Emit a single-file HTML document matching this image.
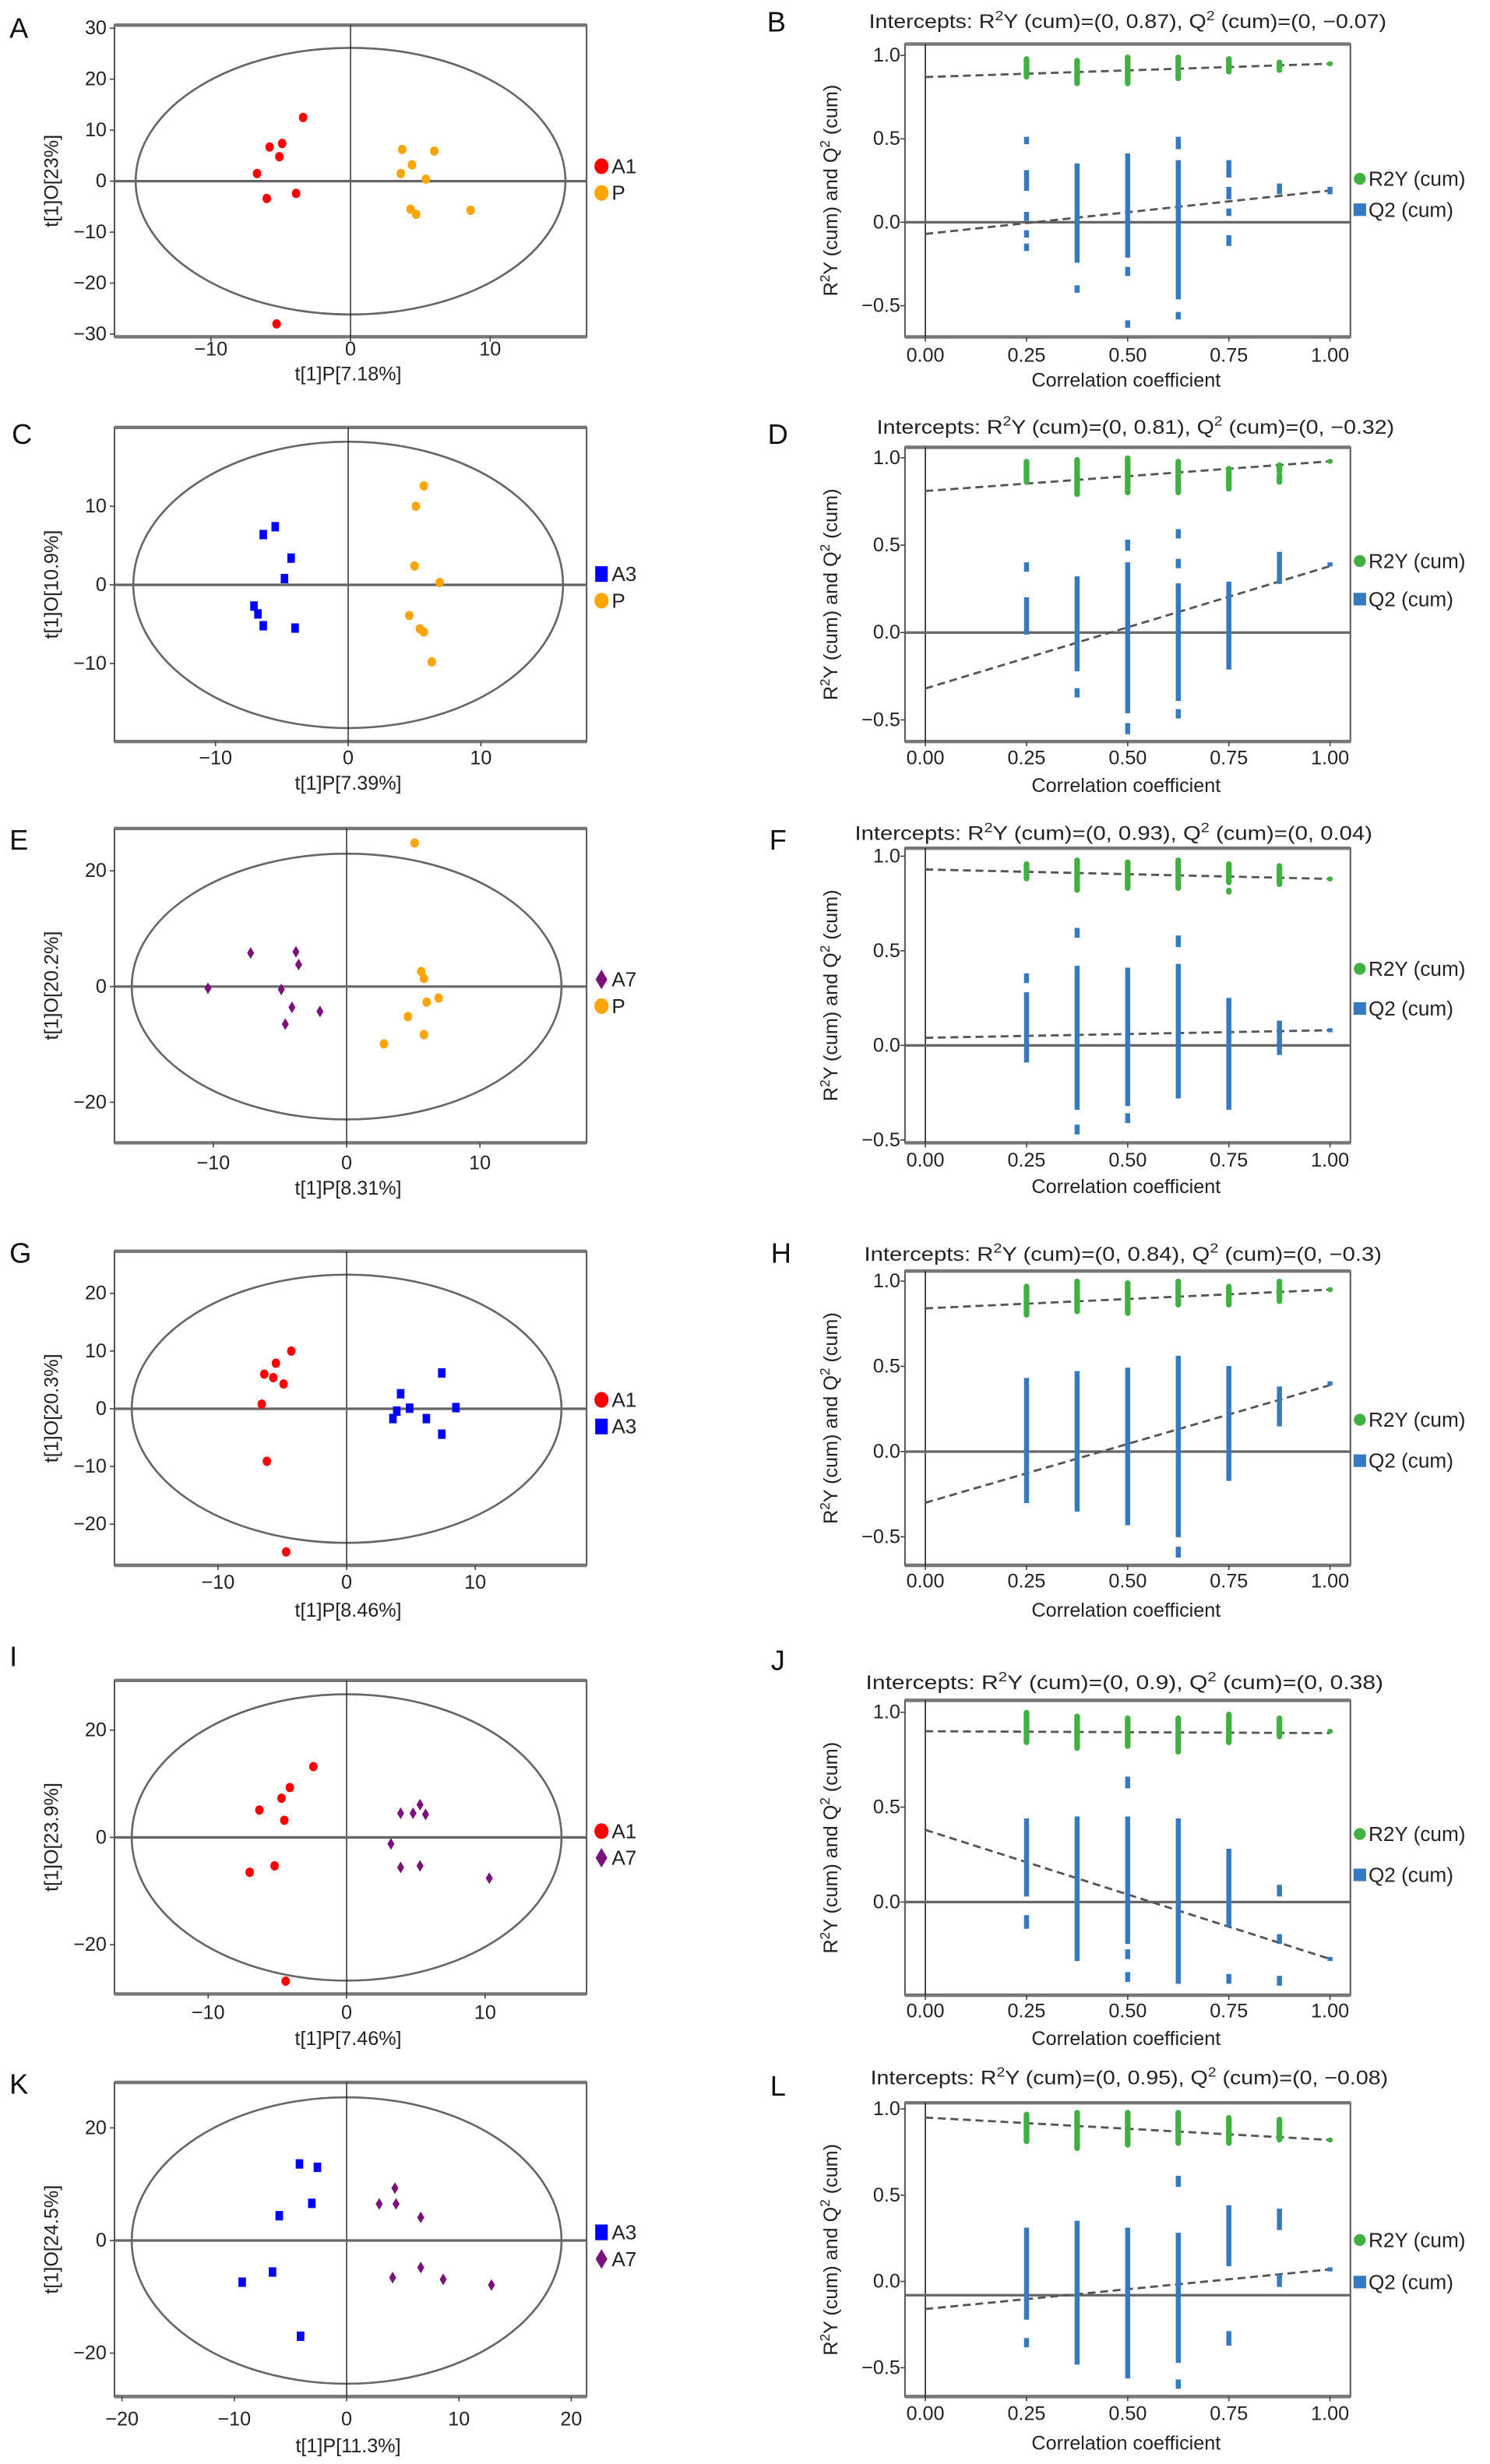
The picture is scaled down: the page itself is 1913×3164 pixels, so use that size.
<!DOCTYPE html>
<html><head><meta charset="utf-8"><title>OPLS-DA score plots and permutation tests</title>
<style>
html,body{margin:0;padding:0;background:#fff;}
svg{display:block;font-family:"Liberation Sans",Arial,sans-serif;}
</style></head>
<body>
<svg id="fig" xmlns="http://www.w3.org/2000/svg" width="1913" height="3164" viewBox="0 0 950 1571" preserveAspectRatio="none"></svg>
<script>
// ---------- Score plot data ----------
const aA1X=[-3.4,-4.9,-5.8,-5.1,-6.7,-3.9,-6.0,-5.3];
const aA1Y=[12.5,7.4,6.7,4.8,1.5,-2.4,-3.4,-28];
const aPX=[3.7,6.0,4.4,3.6,5.4,4.3,4.7,8.6];
const aPY=[6.2,5.9,3.2,1.5,0.4,-5.5,-6.5,-5.7];
const cA3X=[-5.5,-6.4,-4.3,-4.8,-7.1,-6.8,-6.4,-4.0];
const cA3Y=[7.4,6.4,3.4,0.8,-2.7,-3.7,-5.2,-5.5];
const cPX=[5.7,5.1,5.0,6.9,4.6,5.4,5.7,6.3];
const cPY=[12.6,10,2.4,0.3,-3.9,-5.6,-6,-9.8];
const eA7X=[-7.2,-3.8,-3.6,-10.4,-4.9,-4.1,-2.0,-4.6];
const eA7Y=[5.8,6.0,3.8,-0.3,-0.5,-3.6,-4.3,-6.5];
const ePX=[5.1,5.6,5.8,6.9,6.0,4.6,5.8,2.8];
const ePY=[24.8,2.6,1.4,-2.0,-2.7,-5.2,-8.3,-9.9];
const gA1X=[-4.3,-5.5,-6.4,-5.7,-4.9,-6.6,-6.2,-4.7];
const gA1Y=[10,7.9,6,5.4,4.3,0.8,-9.1,-24.8];
const gA3X=[7.4,4.2,4.9,3.9,8.5,3.6,6.2,7.4];
const gA3Y=[6.2,2.6,0.1,-0.4,0.2,-1.7,-1.7,-4.4];
const iA1X=[-2.4,-4.1,-4.7,-6.3,-4.5,-5.2,-7.0,-4.4];
const iA1Y=[13.2,9.3,7.3,5.1,3.2,-5.3,-6.5,-26.8];
const iA7X=[5.3,3.9,4.8,5.7,3.2,3.9,5.3,10.3];
const iA7Y=[6.1,4.5,4.5,4.3,-1.2,-5.6,-5.3,-7.6];
const kA3X=[-4.2,-2.6,-3.1,-6.0,-6.6,-9.3,-4.1];
const kA3Y=[13.6,13,6.6,4.4,-5.6,-7.4,-17];
const kA7X=[4.3,2.9,4.4,6.6,6.6,4.1,8.6,12.9];
const kA7Y=[9.3,6.5,6.5,4.1,-4.8,-6.6,-6.9,-7.9];
const scatXTicks=[-10,0,10];
const kXTicks=[-20,-10,0,10,20];
const aYTicks=[-30,-20,-10,0,10,20,30];
const cYTicks=[-10,0,10];
const eYTicks=[-20,0,20];
const gYTicks=[-20,-10,0,10,20];
const permXTicks=[0,0.25,0.5,0.75,1];
const permYTicks=[-0.5,0,0.5,1];
const jYTicks=[0,0.5,1];

// ---------- Permutation data: [x, high, low] ----------
const bR2Y=[[0.25,0.98,0.87],[0.375,0.97,0.83],[0.5,0.99,0.83],[0.625,0.99,0.86],[0.75,0.98,0.9],[0.875,0.96,0.91],[1,0.95,0.95]];
const bQ2=[[0.25,0.5,0.48],[0.25,0.3,0.2],[0.25,0.05,0.02],[0.25,-0.06,-0.08],[0.25,-0.14,-0.16],[0.375,0.34,-0.23],[0.375,-0.39,-0.41],[0.5,0.4,0.32],[0.5,0.3,-0.2],[0.5,-0.28,-0.31],[0.5,-0.6,-0.62],[0.625,0.5,0.45],[0.625,0.36,-0.45],[0.625,-0.55,-0.57],[0.75,0.36,0.28],[0.75,0.2,0.15],[0.75,0.07,0.05],[0.75,-0.09,-0.13],[0.875,0.22,0.18],[1,0.2,0.18]];
const bLines=[[0.87,0.95],[-0.07,0.19]];
const dR2Y=[[0.25,0.98,0.86],[0.375,0.99,0.79],[0.5,1.0,0.8],[0.625,0.98,0.8],[0.75,0.94,0.82],[0.875,0.96,0.92],[0.875,0.9,0.86],[1,0.98,0.98]];
const dQ2=[[0.25,0.39,0.36],[0.25,0.19,0.0],[0.375,0.31,-0.21],[0.375,-0.33,-0.36],[0.5,0.52,0.48],[0.5,0.39,-0.45],[0.5,-0.53,-0.57],[0.625,0.58,0.55],[0.625,0.41,0.38],[0.625,0.27,-0.38],[0.625,-0.45,-0.48],[0.75,0.28,-0.2],[0.875,0.45,0.29],[1,0.39,0.39]];
const dLines=[[0.81,0.98],[-0.32,0.38]];
const fR2Y=[[0.25,0.96,0.88],[0.375,0.98,0.82],[0.5,0.97,0.83],[0.625,0.98,0.83],[0.75,0.96,0.86],[0.75,0.82,0.81],[0.875,0.95,0.85],[1,0.88,0.88]];
const fQ2=[[0.25,0.37,0.34],[0.25,0.27,-0.08],[0.375,0.61,0.58],[0.375,0.41,-0.33],[0.375,-0.43,-0.46],[0.5,0.4,-0.31],[0.5,-0.37,-0.4],[0.625,0.57,0.53],[0.625,0.42,-0.27],[0.75,0.24,-0.33],[0.875,0.12,-0.04],[1,0.08,0.08]];
const fLines=[[0.93,0.88],[0.04,0.08]];
const hR2Y=[[0.25,0.97,0.8],[0.375,1.0,0.82],[0.5,0.99,0.81],[0.625,1.0,0.86],[0.75,0.97,0.86],[0.875,1.0,0.88],[1,0.95,0.95]];
const hQ2=[[0.25,0.42,-0.29],[0.375,0.46,-0.34],[0.5,0.48,-0.42],[0.625,0.55,-0.49],[0.625,-0.57,-0.61],[0.75,0.49,-0.16],[0.875,0.37,0.16],[1,0.4,0.4]];
const hLines=[[0.84,0.95],[-0.3,0.39]];
const jR2Y=[[0.25,1.0,0.84],[0.375,0.98,0.81],[0.5,0.97,0.82],[0.625,0.97,0.79],[0.75,0.99,0.84],[0.875,0.97,0.87],[1,0.9,0.9]];
const jQ2=[[0.25,0.43,0.04],[0.25,-0.08,-0.13],[0.375,0.44,-0.3],[0.5,0.65,0.61],[0.5,0.44,-0.21],[0.5,-0.26,-0.29],[0.5,-0.38,-0.41],[0.625,0.43,-0.42],[0.75,0.27,-0.12],[0.75,-0.39,-0.42],[0.875,0.08,0.04],[0.875,-0.18,-0.21],[0.875,-0.4,-0.43],[1,-0.3,-0.3]];
const jLines=[[0.9,0.89],[0.38,-0.3]];
const lR2Y=[[0.25,0.97,0.81],[0.375,0.98,0.77],[0.5,0.98,0.79],[0.625,0.98,0.8],[0.75,0.95,0.8],[0.875,0.94,0.82],[1,0.82,0.82]];
const lQ2=[[0.25,0.3,-0.21],[0.25,-0.34,-0.37],[0.375,0.34,-0.47],[0.5,0.3,-0.55],[0.625,0.6,0.56],[0.625,0.27,-0.46],[0.625,-0.58,-0.61],[0.75,0.43,0.1],[0.75,-0.3,-0.36],[0.875,0.41,0.31],[0.875,0.03,-0.02],[1,0.07,0.07]];
const lLines=[[0.95,0.82],[-0.16,0.07]];

const svg=document.getElementById('fig');
const NS='http://www.w3.org/2000/svg';
function mk(tag,attrs,parent){const e=document.createElementNS(NS,tag);for(const k in attrs)e.setAttribute(k,attrs[k]);(parent||svg).appendChild(e);return e;}

const COL={red:'#ff0000',orange:'#ffa500',blue:'#0000ff',purple:'#7b127b',green:'#40b040',steel:'#3579c0'};

function marker(shape,cx,cy,s,color,parent){
  let el;
  if(shape==='circle'){el=mk('ellipse',{cx:cx,cy:cy,rx:s*0.9,ry:s,fill:color},parent);}
  else if(shape==='square'){el=mk('rect',{x:cx-s*0.8,y:cy-s,width:s*1.6,height:s*2,fill:color},parent);}
  else {el=mk('polygon',{points:(cx)+','+(cy-s*1.25)+' '+(cx+s*0.75)+','+cy+' '+cx+','+(cy+s*1.25)+' '+(cx-s*0.75)+','+cy,fill:color},parent);}
  return el;
}

function letter(t,x,y){
  const e=mk('text',{x:x,y:y,'font-size':18,'text-anchor':'middle','dominant-baseline':'central',fill:'#111'});
  e.textContent=t;
  
  
}

function scatterPanel(p){
  const g=mk('g',{});
  
  
  const X=v=>p.x0+v*p.xs, Y=v=>p.y0-v*p.ys;
  const L=73,R=374;
  const box=mk('rect',{x:L,y:p.top,width:R-L,height:p.bot-p.top,fill:'none',stroke:'#555','stroke-width':1},g);
  
  
  const tb=mk('path',{d:'M'+L+' '+p.top+'H'+R+'M'+L+' '+p.bot+'H'+R,stroke:'#777','stroke-width':2.2,fill:'none'},g);
  
  
  const ell=mk('ellipse',{cx:p.x0,cy:p.y0,rx:137,ry:p.ery,fill:'none',stroke:'#666','stroke-width':1.3},g);
  
  
  const vl=mk('line',{x1:p.x0,x2:p.x0,y1:p.top,y2:p.bot,stroke:'#222','stroke-width':0.7},g);
  
  
  const hl=mk('line',{x1:L,x2:R,y1:p.y0,y2:p.y0,stroke:'#666','stroke-width':1.6},g);
  
  
  p.xt.forEach(v=>{
    const t=mk('text',{x:X(v),y:p.xty,'font-size':12.5,'text-anchor':'middle','dominant-baseline':'central',fill:'#222'},g);
    t.textContent=v<0?'\u2212'+(-v):String(v);
    
    
    const tk=mk('line',{x1:X(v),x2:X(v),y1:p.bot,y2:p.bot+3,stroke:'#444','stroke-width':0.8},g);
    
    
  });
  p.yt.forEach(v=>{
    const t=mk('text',{x:68,y:Y(v),'font-size':12.5,'text-anchor':'end','dominant-baseline':'central',fill:'#222'},g);
    t.textContent=v<0?'\u2212'+(-v):String(v);
    
    
    const tk=mk('line',{x1:L-3,x2:L,y1:Y(v),y2:Y(v),stroke:'#444','stroke-width':0.8},g);
    
    
  });
  const xt=mk('text',{x:222,y:p.xtitY,'font-size':12.5,'text-anchor':'middle','dominant-baseline':'central',fill:'#222'},g);
  xt.textContent=p.xtitle;
  
  
  const my=(p.top+p.bot)/2;
  const yt=mk('text',{x:33,y:my,'font-size':12.5,'text-anchor':'middle','dominant-baseline':'central',fill:'#222',transform:'rotate(-90 33 '+my+')'},g);
  yt.textContent=p.ytitle;
  
  
  p.groups.forEach((gr,gi)=>{
    gr.xs.forEach((xv,i)=>{
      const m=marker(gr.shape,X(xv),Y(gr.ys[i]),3,gr.color,g);
      
      
    });
    const ly=p.legY+gi*17;
    const lm=marker(gr.shape,383.5,ly,5,gr.color,g);
    
    
    const lt=mk('text',{x:390,y:ly,'font-size':13,'dominant-baseline':'central',fill:'#222'},g);
    lt.textContent=gr.name;
    
    
  });
}

function permPanel(p){
  const g=mk('g',{});
  
  
  const X=v=>590+v*258, Y=v=>p.y0-v*p.u;
  const L=577,R=861;
  const box=mk('rect',{x:L,y:p.top,width:R-L,height:p.bot-p.top,fill:'none',stroke:'#555','stroke-width':1},g);
  
  
  const tb=mk('path',{d:'M'+L+' '+p.top+'H'+R+'M'+L+' '+p.bot+'H'+R,stroke:'#777','stroke-width':2.2,fill:'none'},g);
  
  
  const vl=mk('line',{x1:X(0),x2:X(0),y1:p.top,y2:p.bot,stroke:'#222','stroke-width':0.8},g);
  
  
  const hv=p.hline||0;
  const hl=mk('line',{x1:L,x2:R,y1:Y(hv),y2:Y(hv),stroke:'#666','stroke-width':1.6},g);
  
  
  permXTicks.forEach(v=>{
    const t=mk('text',{x:X(v),y:p.xty,'font-size':12.5,'text-anchor':'middle','dominant-baseline':'central',fill:'#222'},g);
    t.textContent=v.toFixed(2);
    
    
    const tk=mk('line',{x1:X(v),x2:X(v),y1:p.bot,y2:p.bot+3,stroke:'#444','stroke-width':0.8},g);
    
    
  });
  p.yt.forEach(v=>{
    const t=mk('text',{x:574,y:Y(v),'font-size':12.5,'text-anchor':'end','dominant-baseline':'central',fill:'#222'},g);
    t.textContent=v<0?'\u2212'+(-v).toFixed(1):v.toFixed(1);
    
    
    const tk=mk('line',{x1:L-3,x2:L,y1:Y(v),y2:Y(v),stroke:'#444','stroke-width':0.8},g);
    
    
  });
  const xt=mk('text',{x:718,y:p.xtitY,'font-size':12.5,'text-anchor':'middle','dominant-baseline':'central',fill:'#222'},g);
  xt.textContent='Correlation coefficient';
  
  
  const my=(p.top+p.bot)/2;
  const yt=mk('text',{x:530,y:my,'font-size':12.5,'text-anchor':'middle','dominant-baseline':'central',fill:'#222',transform:'rotate(-90 530 '+my+')'},g);
  yt.innerHTML='R<tspan dy="-4" font-size="8.5">2</tspan><tspan dy="4">Y (cum) and Q</tspan><tspan dy="-4" font-size="8.5">2</tspan><tspan dy="4"> (cum)</tspan>';
  
  
  const ti=mk('text',{x:p.tx,y:p.ty,'font-size':12.5,'text-anchor':'middle','dominant-baseline':'central',fill:'#222',textLength:330,lengthAdjust:'spacingAndGlyphs'},g);
  ti.innerHTML='Intercepts: R<tspan dy="-4" font-size="8.5">2</tspan><tspan dy="4">Y (cum)=(0, '+p.r2+'), Q</tspan><tspan dy="-4" font-size="8.5">2</tspan><tspan dy="4"> (cum)=(0, '+p.q2+')</tspan>';
  
  
  // regression lines
  const ln1=mk('line',{x1:X(0),y1:Y(p.lines[0][0]),x2:X(1),y2:Y(p.lines[0][1]),stroke:'#555','stroke-width':1.4,'stroke-dasharray':'5,3'},g);
  
  
  const ln2=mk('line',{x1:X(0),y1:Y(p.lines[1][0]),x2:X(1),y2:Y(p.lines[1][1]),stroke:'#555','stroke-width':1.4,'stroke-dasharray':'5,3'},g);
  
  
  p.q2runs.forEach(r=>{
    const y1=Y(r[1]),y2=Y(r[2]);
    const e=mk('rect',{x:X(r[0])-1.6,y:y1-1.3,width:3.2,height:y2-y1+2.6,fill:COL.steel},g);
    
    
  });
  p.r2runs.forEach(r=>{
    const y1=Y(r[1]),y2=Y(r[2]);
    const e=mk('rect',{x:X(r[0])-1.8,y:y1-1.6,width:3.6,height:y2-y1+3.2,rx:1.8,fill:COL.green},g);
    
    
  });
  const c=mk('circle',{cx:867,cy:p.legY,r:3.8,fill:COL.green},g);
  
  
  const t1=mk('text',{x:872.5,y:p.legY,'font-size':13,'dominant-baseline':'central',fill:'#222'},g);
  t1.textContent='R2Y (cum)';
  
  
  const s=mk('rect',{x:863,y:p.legY+p.legGap-4,width:8,height:8,fill:COL.steel},g);
  
  
  const t2=mk('text',{x:872.5,y:p.legY+p.legGap,'font-size':13,'dominant-baseline':'central',fill:'#222'},g);
  t2.textContent='Q2 (cum)';
  
  
}

// Score plots
scatterPanel({id:'a',top:16,bot:214.7,x0:223.5,xs:8.9,y0:115.5,ys:3.25,ery:85,xt:scatXTicks,yt:aYTicks,xty:222.6,xtitY:238.5,xtitle:'t[1]P[7.18%]',ytitle:'t[1]O[23%]',legY:106,
  groups:[{name:'A1',shape:'circle',color:COL.red,xs:aA1X,ys:aA1Y},{name:'P',shape:'circle',color:COL.orange,xs:aPX,ys:aPY}]});
scatterPanel({id:'c',top:272.5,bot:472.8,x0:222,xs:8.46,y0:372.9,ys:5.01,ery:91.3,xt:scatXTicks,yt:cYTicks,xty:483.4,xtitY:499.5,xtitle:'t[1]P[7.39%]',ytitle:'t[1]O[10.9%]',legY:366,
  groups:[{name:'A3',shape:'square',color:COL.blue,xs:cA3X,ys:cA3Y},{name:'P',shape:'circle',color:COL.orange,xs:cPX,ys:cPY}]});
scatterPanel({id:'e',top:528.2,bot:728.6,x0:221,xs:8.5,y0:629,ys:3.69,ery:84.7,xt:scatXTicks,yt:eYTicks,xty:741.6,xtitY:757.6,xtitle:'t[1]P[8.31%]',ytitle:'t[1]O[20.2%]',legY:624.5,
  groups:[{name:'A7',shape:'diamond',color:COL.purple,xs:eA7X,ys:eA7Y},{name:'P',shape:'circle',color:COL.orange,xs:ePX,ys:ePY}]});
scatterPanel({id:'g',top:797.8,bot:998,x0:221,xs:8.2,y0:898.2,ys:3.68,ery:85.5,xt:scatXTicks,yt:gYTicks,xty:1009,xtitY:1026.7,xtitle:'t[1]P[8.46%]',ytitle:'t[1]O[20.3%]',legY:892.5,
  groups:[{name:'A1',shape:'circle',color:COL.red,xs:gA1X,ys:gA1Y},{name:'A3',shape:'square',color:COL.blue,xs:gA3X,ys:gA3Y}]});
scatterPanel({id:'i',top:1071.4,bot:1271.3,x0:221,xs:8.83,y0:1171.5,ys:3.42,ery:91.3,xt:scatXTicks,yt:eYTicks,xty:1283.2,xtitY:1300,xtitle:'t[1]P[7.46%]',ytitle:'t[1]O[23.9%]',legY:1167.5,
  groups:[{name:'A1',shape:'circle',color:COL.red,xs:iA1X,ys:iA1Y},{name:'A7',shape:'diamond',color:COL.purple,xs:iA7X,ys:iA7Y}]});
scatterPanel({id:'k',top:1327.7,bot:1528,x0:221,xs:7.16,y0:1428.5,ys:3.59,ery:91.3,xt:kXTicks,yt:eYTicks,xty:1542.4,xtitY:1559.7,xtitle:'t[1]P[11.3%]',ytitle:'t[1]O[24.5%]',legY:1423.3,
  groups:[{name:'A3',shape:'square',color:COL.blue,xs:kA3X,ys:kA3Y},{name:'A7',shape:'diamond',color:COL.purple,xs:kA7X,ys:kA7Y}]});

// Permutation plots
permPanel({id:'b',top:28.1,bot:214.8,y0:141.7,u:106.4,yt:permYTicks,xty:226.7,xtitY:242.5,tx:719,ty:14,r2:'0.87',q2:'\u22120.07',lines:bLines,r2runs:bR2Y,q2runs:bQ2,legY:114,legGap:19.7});
permPanel({id:'d',top:285.2,bot:472.8,y0:403.3,u:111.4,yt:permYTicks,xty:483.4,xtitY:501,tx:724,ty:272.5,r2:'0.81',q2:'\u22120.32',lines:dLines,r2runs:dR2Y,q2runs:dQ2,legY:357.7,legGap:24.3});
permPanel({id:'f',top:540.8,bot:728.6,y0:666.5,u:120.6,yt:permYTicks,xty:739.9,xtitY:756.7,tx:710,ty:531.5,r2:'0.93',q2:'0.04',lines:fLines,r2runs:fR2Y,q2runs:fQ2,legY:617.7,legGap:25.3});
permPanel({id:'h',top:810.4,bot:998,y0:925.5,u:108.7,yt:permYTicks,xty:1008.1,xtitY:1026.7,tx:716,ty:799.8,r2:'0.84',q2:'\u22120.3',lines:hLines,r2runs:hR2Y,q2runs:hQ2,legY:905.2,legGap:26.1});
permPanel({id:'j',top:1084.1,bot:1272.1,y0:1212.7,u:121,yt:jYTicks,xty:1282.3,xtitY:1300,tx:717,ty:1073.1,r2:'0.9',q2:'0.38',lines:jLines,r2runs:jR2Y,q2runs:jQ2,legY:1169.3,legGap:26.1});
permPanel({id:'l',top:1340.7,bot:1528,y0:1454.6,u:110,yt:permYTicks,xty:1538.9,xtitY:1557.8,tx:720,ty:1325.1,r2:'0.95',q2:'\u22120.08',lines:lLines,r2runs:lR2Y,q2runs:lQ2,legY:1428.2,legGap:26.8,hline:-0.08});

// Panel letters
letter('A',12,18);letter('B',495,14);
letter('C',14,276.7);letter('D',496,276.7);
letter('E',12,535.5);letter('F',496,535.5);
letter('G',13,798.9);letter('H',498,798.9);
letter('I',8.5,1056);letter('J',496,1058.7);
letter('K',12,1328.6);letter('L',496,1330);
</script>
</body></html>
